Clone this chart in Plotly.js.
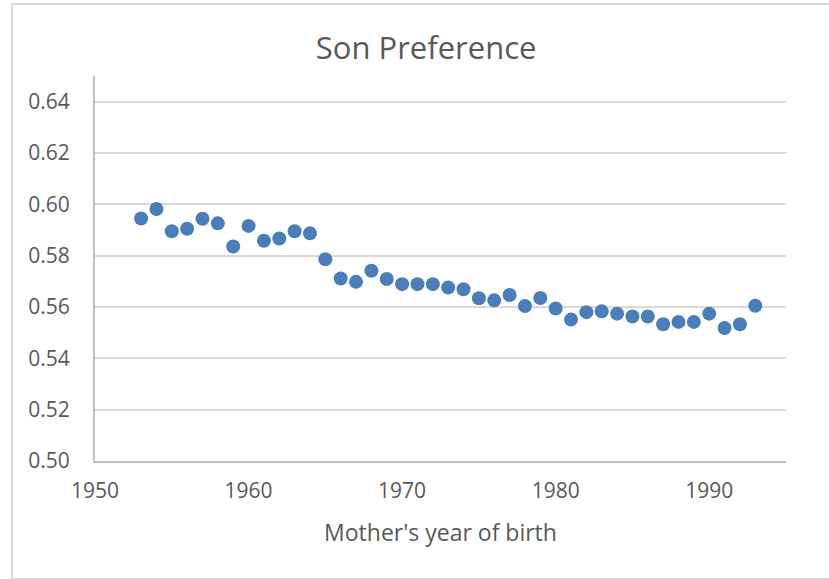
<!DOCTYPE html>
<html>
<head>
<meta charset="utf-8">
<script src="https://cdn.plot.ly/plotly-3.0.1.min.js"></script>
<style>
  html, body { margin: 0; padding: 0; background: #fff; }
  #wrap { position: relative; width: 829px; height: 579px; }
  #chart { position: absolute; left: 0; top: 0; width: 829px; height: 579px; }
  #frame { position: absolute; left: 11px; top: 3px; width: 830px; height: 573px;
           border-left: 2px solid #d9d9d9; border-top: 2px solid #d9d9d9; border-bottom: 2px solid #d9d9d9;
           pointer-events: none; }
</style>
</head>
<body>
<div id="wrap">
  <div id="chart"></div>
  <div id="frame"></div>
</div>
<script>
const years = [1953, 1954, 1955, 1956, 1957, 1958, 1959, 1960, 1961, 1962,
               1963, 1964, 1965, 1966, 1967, 1968, 1969, 1970, 1971, 1972,
               1973, 1974, 1975, 1976, 1977, 1978, 1979, 1980, 1981, 1982,
               1983, 1984, 1985, 1986, 1987, 1988, 1989, 1990, 1991, 1992, 1993];
const sonPreference = [0.5945, 0.5982, 0.5895, 0.5905, 0.5944, 0.5926, 0.5836, 0.5916, 0.5858, 0.5867,
                       0.5895, 0.5887, 0.5786, 0.5711, 0.5698, 0.5741, 0.5709, 0.5689, 0.5689, 0.5689,
                       0.5676, 0.5669, 0.5634, 0.5626, 0.5647, 0.5604, 0.5635, 0.5594, 0.5551, 0.5580,
                       0.5583, 0.5574, 0.5563, 0.5563, 0.5533, 0.5542, 0.5542, 0.5574, 0.5518, 0.5533, 0.5605];
const chartTitle = "Son Preference";
const xTitle = "Mother's year of birth";

const textColor = '#595959';
const fontFam = 'Open Sans, Lato, sans-serif';

const trace = {
  type: 'scatter',
  mode: 'markers',
  x: years,
  y: sonPreference,
  marker: { color: '#4a7ebb', size: 14, line: { width: 0 } },
  hoverinfo: 'x+y'
};

const layout = {
  width: 829,
  height: 579,
  paper_bgcolor: 'rgba(0,0,0,0)',
  plot_bgcolor: '#ffffff',
  showlegend: false,
  margin: { l: 95, r: 43, t: 76, b: 118 },
  font: { family: fontFam, color: textColor },
  title: {
    text: chartTitle,
    font: { family: fontFam, size: 31, color: textColor },
    x: 0.514, xref: 'container', xanchor: 'center',
    y: 1 - 48 / 579, yref: 'container', yanchor: 'middle'
  },
  xaxis: {
    range: [1950, 1995],
    tick0: 1950,
    dtick: 10,
    showgrid: false,
    zeroline: false,
    showline: true,
    linecolor: '#bfbfbf',
    linewidth: 2,
    ticks: '',
    ticklabelstandoff: 10,
    tickfont: { family: fontFam, size: 21, color: textColor },
    title: {
      text: xTitle,
      font: { family: fontFam, size: 23, color: textColor },
      standoff: 22
    }
  },
  yaxis: {
    range: [0.5, 0.65],
    tick0: 0.5,
    dtick: 0.02,
    tickformat: '.2f',
    showgrid: true,
    gridcolor: '#d9d9d9',
    gridwidth: 2,
    zeroline: false,
    showline: true,
    linecolor: '#bfbfbf',
    linewidth: 2,
    ticks: '',
    ticklabelstandoff: 19,
    tickfont: { family: fontFam, size: 21, color: textColor }
  }
};

Plotly.newPlot('chart', [trace], layout, { displayModeBar: false, staticPlot: true });
</script>
</body>
</html>
